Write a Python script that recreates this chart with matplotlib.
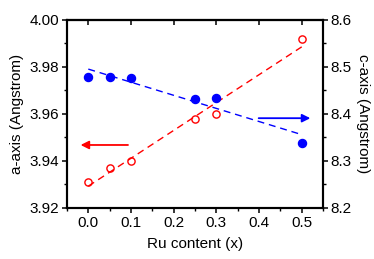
import numpy as np
import matplotlib
matplotlib.use("Agg")
import matplotlib.pyplot as plt
from matplotlib.ticker import MultipleLocator

plt.rcParams['font.family'] = ['Liberation Sans', 'DejaVu Sans']
plt.rcParams['font.size'] = 11

# Ru content
ru = [0.0, 0.05, 0.1, 0.25, 0.3, 0.5]
# a-axis (left scale), open red circles
a_axis = [3.931, 3.937, 3.940, 3.958, 3.960, 3.992]
# c-axis (right scale), filled blue circles
c_axis = [8.479, 8.479, 8.477, 8.431, 8.433, 8.339]

fig = plt.figure(figsize=(3.74, 2.59), dpi=100)
ax = fig.add_subplot(111)
fig.subplots_adjust(left=0.179, right=0.864, top=0.923, bottom=0.197)
ax2 = ax.twinx()

x = np.array(ru)
xf = np.array([0.0, 0.5])

# linear fits
pa = np.polyfit(x, a_axis, 1)
pc = np.polyfit(x, c_axis, 1)

ax.plot(xf, np.polyval(pa, xf), '--', color='red', lw=1, dashes=(5, 3.5))
ax.plot(x, a_axis, 'o', mfc='none', mec='red', ms=5.2, mew=1)

ax2.plot(xf, np.polyval(pc, xf), '--', color='blue', lw=1, dashes=(5, 3.5))
ax2.plot(x, c_axis, 'o', color='blue', ms=5.8)

# arrows pointing to each axis
ax.annotate('', xy=(-0.018, 3.9468), xytext=(0.093, 3.9468),
            arrowprops=dict(arrowstyle='-|>', color='red', lw=1.3,
                            mutation_scale=12, shrinkA=0, shrinkB=0))
ax2.annotate('', xy=(0.52, 8.391), xytext=(0.399, 8.391),
             arrowprops=dict(arrowstyle='-|>', color='blue', lw=1.3,
                             mutation_scale=12, shrinkA=0, shrinkB=0))

ax.set_xlim(-0.05, 0.55)
ax.set_ylim(3.92, 4.00)
ax2.set_ylim(8.2, 8.6)

ax.xaxis.set_major_locator(MultipleLocator(0.1))
ax.xaxis.set_minor_locator(MultipleLocator(0.05))
ax.yaxis.set_major_locator(MultipleLocator(0.02))
ax.yaxis.set_minor_locator(MultipleLocator(0.01))
ax2.yaxis.set_major_locator(MultipleLocator(0.1))
ax2.yaxis.set_minor_locator(MultipleLocator(0.05))
ax.xaxis.set_major_formatter(plt.FormatStrFormatter('%.1f'))
ax.yaxis.set_major_formatter(plt.FormatStrFormatter('%.2f'))
ax2.yaxis.set_major_formatter(plt.FormatStrFormatter('%.1f'))

ax.tick_params(which='major', direction='out', length=3.5, width=1.1, pad=2, labelsize=11)
ax.tick_params(which='minor', direction='out', length=2, width=1.0)
ax2.tick_params(which='major', direction='out', length=3.5, width=1.1, pad=2, labelsize=11)
ax2.tick_params(which='minor', direction='out', length=2, width=1.0)

top = ax.secondary_xaxis('top')
top.xaxis.set_major_locator(MultipleLocator(0.1))
top.tick_params(direction='in', length=3.5, width=1.1, labeltop=False)
top.spines['top'].set_linewidth(1.5)

for a in (ax, ax2):
    for s in a.spines.values():
        s.set_linewidth(1.5)

ax.set_xlabel('Ru content (x)', labelpad=5)
ax.set_ylabel('a-axis (Angstrom)', labelpad=4)
ax2.set_ylabel('c-axis (Angstrom)', rotation=270, labelpad=13)

fig.savefig('out.png', dpi=100)
